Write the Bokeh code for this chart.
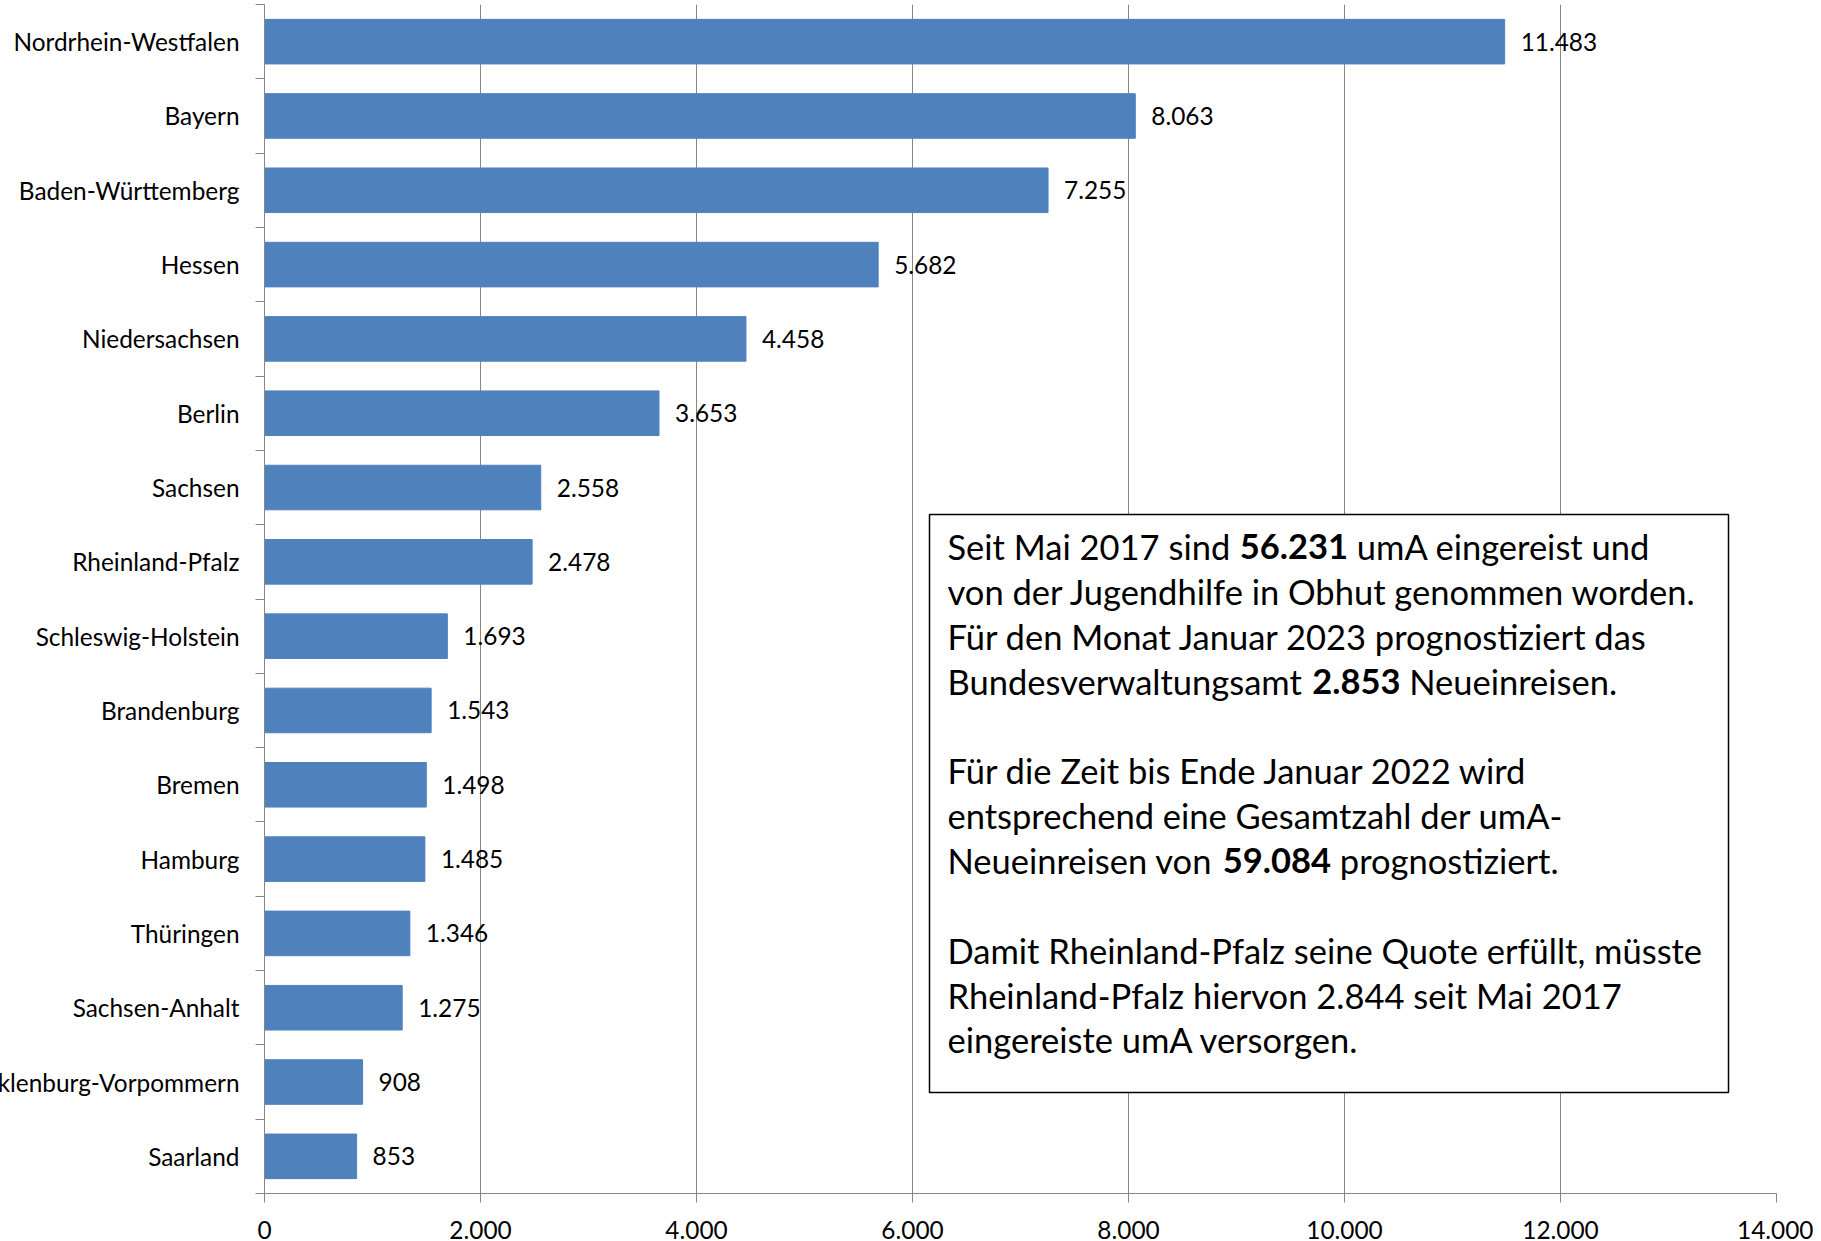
import glob
import os
import struct
import subprocess

from bokeh.plotting import figure
from bokeh.models import (ColumnDataSource, Range1d, LinearAxis, FixedTicker, Grid)
from bokeh.core.properties import value
from bokeh.embed import file_html
from bokeh.resources import INLINE

# ---------------- data ----------------
states = ["Nordrhein-Westfalen", "Bayern", "Baden-Württemberg", "Hessen",
          "Niedersachsen", "Berlin", "Sachsen", "Rheinland-Pfalz",
          "Schleswig-Holstein", "Brandenburg", "Bremen", "Hamburg",
          "Thüringen", "Sachsen-Anhalt", "Mecklenburg-Vorpommern", "Saarland"]
counts = [11483, 8063, 7255, 5682, 4458, 3653, 2558, 2478,
          1693, 1543, 1498, 1485, 1346, 1275, 908, 853]
x_ticks = [0, 2000, 4000, 6000, 8000, 10000, 12000, 14000]
x_tick_labels = ["0", "2.000", "4.000", "6.000", "8.000", "10.000", "12.000", "14.000"]

box_lines = [
    [("Seit Mai 2017 sind ", False), ("56.231", True), (" umA eingereist und", False)],
    [("von der Jugendhilfe in Obhut genommen worden.", False)],
    [("Für den Monat Januar 2023 prognostiziert das", False)],
    [("Bundesverwaltungsamt ", False), ("2.853", True), (" Neueinreisen.", False)],
    [],
    [("Für die Zeit bis Ende Januar 2022 wird", False)],
    [("entsprechend eine Gesamtzahl der umA-", False)],
    [("Neueinreisen von ", False), ("59.084", True), (" prognostiziert.", False)],
    [],
    [("Damit Rheinland-Pfalz seine Quote erfüllt, müsste", False)],
    [("Rheinland-Pfalz hiervon 2.844 seit Mai 2017", False)],
    [("eingereiste umA versorgen.", False)],
]

# ---------------- font metrics (for placing bold fragments) ----------------
FONT = "Lato"


def _find_font(fc_pattern, names):
    path = None
    try:
        out = subprocess.run(["fc-match", "-f", "%{file}", fc_pattern],
                             capture_output=True, text=True, timeout=5).stdout.strip()
        if out and os.path.exists(out):
            path = out
    except Exception:
        path = None
    if path is None or "lato" not in os.path.basename(path).lower():
        for root in ["/usr/share/fonts", "/usr/local/share/fonts",
                     os.path.expanduser("~/.fonts"), os.path.expanduser("~/.local/share/fonts")]:
            for n in names:
                hits = glob.glob(os.path.join(root, "**", n), recursive=True)
                if hits:
                    return hits[0]
    return path


def _metrics(path):
    try:
        data = open(path, "rb").read()
        base = 0
        if data[:4] == b"ttcf":
            base = struct.unpack(">I", data[12:16])[0]
        num = struct.unpack(">H", data[base + 4:base + 6])[0]
        tables = {}
        for i in range(num):
            rec = data[base + 12 + 16 * i: base + 28 + 16 * i]
            tag, _cs, off, ln = struct.unpack(">4sIII", rec)
            tables[tag.decode("latin1")] = off
        head = tables["head"]
        upem = struct.unpack(">H", data[head + 18:head + 20])[0]
        hhea = tables["hhea"]
        num_h = struct.unpack(">H", data[hhea + 34:hhea + 36])[0]
        hmtx = tables["hmtx"]
        adv = [struct.unpack(">H", data[hmtx + 4 * i:hmtx + 4 * i + 2])[0] for i in range(num_h)]
        cmap = tables["cmap"]
        n = struct.unpack(">H", data[cmap + 2:cmap + 4])[0]
        sub = None
        for i in range(n):
            pid, eid, off = struct.unpack(">HHI", data[cmap + 4 + 8 * i:cmap + 12 + 8 * i])
            fmt = struct.unpack(">H", data[cmap + off:cmap + off + 2])[0]
            if fmt == 4 and pid in (0, 3):
                sub = cmap + off
                break
        if sub is None:
            return None
        seg2 = struct.unpack(">H", data[sub + 6:sub + 8])[0]
        segs = seg2 // 2
        ends = struct.unpack(">%dH" % segs, data[sub + 14:sub + 14 + seg2])
        so = sub + 16 + seg2
        starts = struct.unpack(">%dH" % segs, data[so:so + seg2])
        deltas = struct.unpack(">%dh" % segs, data[so + seg2:so + 2 * seg2])
        ro = so + 2 * seg2
        ros = struct.unpack(">%dH" % segs, data[ro:ro + seg2])

        def glyph(c):
            for i in range(segs):
                if ends[i] >= c:
                    if starts[i] > c:
                        return 0
                    if ros[i] == 0:
                        return (c + deltas[i]) & 0xFFFF
                    addr = ro + 2 * i + ros[i] + 2 * (c - starts[i])
                    g = struct.unpack(">H", data[addr:addr + 2])[0]
                    return (g + deltas[i]) & 0xFFFF if g else 0
            return 0

        def width(s, size):
            tot = 0
            for ch in s:
                g = glyph(ord(ch))
                tot += adv[min(g, num_h - 1)]
            return tot * size / upem
        return width
    except Exception:
        return None


_reg = _metrics(_find_font("Lato:style=Regular", ["Lato-Regular.ttf"]))
_bold = _metrics(_find_font("Lato:style=Bold", ["Lato-Bold.ttf"]))


def tw(s, size, bold=False):
    f = _bold if bold else _reg
    if f is not None:
        return f(s, size)
    return len(s) * size * (0.56 if bold else 0.53)


LBL_FS = round(min(27.0, max(22.0, 229.0 / tw("Nordrhein-Westfalen", 1.0))), 1)
BOX_FS = round(min(38.0, max(30.0, 753.0 / tw("von der Jugendhilfe in Obhut genommen worden.", 1.0))), 1)

# ---------------- layout (page pixels) ----------------
ML = 72                      # figure shifted left so the longest label is cut like the original
FIG_LEFT = -ML
FIG_RIGHT = 1813
FIG_TOP = 4
FRAME_LEFT, FRAME_RIGHT = 264, 1776
FRAME_TOP, FRAME_BOTTOM = 4, 1193
FIG_W = FIG_RIGHT - FIG_LEFT
FIG_H = 1250
GRAY = "#868686"
BLUE = "#4F81BD"

XMAX = 14000
NCAT = len(states)
px_per_x = (FRAME_RIGHT - FRAME_LEFT) / XMAX
px_per_y = (FRAME_BOTTOM - FRAME_TOP) / NCAT

# category slots: first state on top
slot = [NCAT - i - 0.5 for i in range(NCAT)]
boundaries = list(range(NCAT + 1))


def px_to_x(px):
    return (px - FRAME_LEFT) / px_per_x


def py_to_y(py):
    return NCAT - (py - FRAME_TOP) / px_per_y


p = figure(width=FIG_W, height=FIG_H,
           x_range=Range1d(0, XMAX), y_range=Range1d(0, NCAT),
           output_backend="svg", toolbar_location=None,
           x_axis_location=None, y_axis_location=None,
           min_border_left=FRAME_LEFT - FIG_LEFT, min_border_right=FIG_RIGHT - FRAME_RIGHT,
           min_border_top=FRAME_TOP - FIG_TOP,
           min_border_bottom=FIG_H - (FRAME_BOTTOM - FIG_TOP))
p.styles = {"margin-left": f"-{ML}px", "margin-top": f"{FIG_TOP}px", "margin-bottom": "-30px"}
p.outline_line_color = None
p.background_fill_color = "white"
p.border_fill_color = "white"

# only vertical grid lines at the value ticks
p.center = [r for r in p.center if not isinstance(r, Grid)]
p.add_layout(Grid(dimension=0, ticker=FixedTicker(ticks=x_ticks),
                  grid_line_color=GRAY, grid_line_width=1))

# x axis
xax = LinearAxis(ticker=FixedTicker(ticks=x_ticks),
                 major_label_overrides={t: l for t, l in zip(x_ticks, x_tick_labels)},
                 axis_line_color=GRAY, major_tick_line_color=GRAY,
                 major_tick_out=9, major_tick_in=0, minor_tick_line_color=None,
                 major_label_standoff=18,
                 major_label_text_font=FONT, major_label_text_font_size=f"{LBL_FS}px",
                 major_label_text_color="black")
p.add_layout(xax, "below")

# y axis: category names centred in their slots, ticks between categories
yax = LinearAxis(ticker=FixedTicker(ticks=slot, minor_ticks=boundaries),
                 major_label_overrides={s: n for s, n in zip(slot, states)},
                 axis_line_color=GRAY, major_tick_line_color=None,
                 major_tick_out=0, major_tick_in=0,
                 minor_tick_line_color=GRAY, minor_tick_out=9, minor_tick_in=0,
                 major_label_standoff=16,
                 major_label_text_font=FONT, major_label_text_font_size=f"{LBL_FS}px",
                 major_label_text_color="black")
p.add_layout(yax, "left")

# bars + value labels
src = ColumnDataSource(dict(y=slot, state=states, value=counts,
                            label=[f"{v:,}".replace(",", ".") for v in counts]))
p.hbar(y="y", right="value", left=0, height=0.6, source=src,
       fill_color=BLUE, line_color=BLUE)
p.text(x="value", y="y", text="label", source=src, x_offset=16,
       text_baseline="middle", text_align="left",
       text_font=value(FONT), text_font_size=f"{LBL_FS}px", text_color="black")

# text box
BOX_L, BOX_R, BOX_T, BOX_B = 929, 1728, 514, 1092
p.quad(left=[px_to_x(BOX_L)], right=[px_to_x(BOX_R)],
       top=[py_to_y(BOX_T)], bottom=[py_to_y(BOX_B)],
       fill_color="white", line_color="black", line_width=1.5)

TEXT_X0 = 947
LINE0 = 546
LINE_STEP = 44.85
bx, by, bt, bs, bo = [], [], [], [], []
for k, frags in enumerate(box_lines):
    off = 0.0
    for t, b in frags:
        lead = t[:len(t) - len(t.lstrip())]
        off += tw(lead, BOX_FS, b)
        body = t.lstrip()
        bx.append(0)
        by.append(py_to_y(LINE0 + k * LINE_STEP))
        bt.append(body.rstrip())
        bs.append("bold" if b else "normal")
        bo.append(TEXT_X0 - FRAME_LEFT + off)
        off += tw(body, BOX_FS, b)
box_src = ColumnDataSource(dict(x=bx, y=by, t=bt, fs=bs, xo=bo))
p.text(x="x", y="y", text="t", x_offset="xo", text_font_style="fs", source=box_src,
       text_baseline="middle", text_align="left",
       text_font=value(FONT), text_font_size=f"{BOX_FS}px", text_color="black")

with open("out.html", "w", encoding="utf-8") as f:
    f.write(file_html(p, INLINE))
